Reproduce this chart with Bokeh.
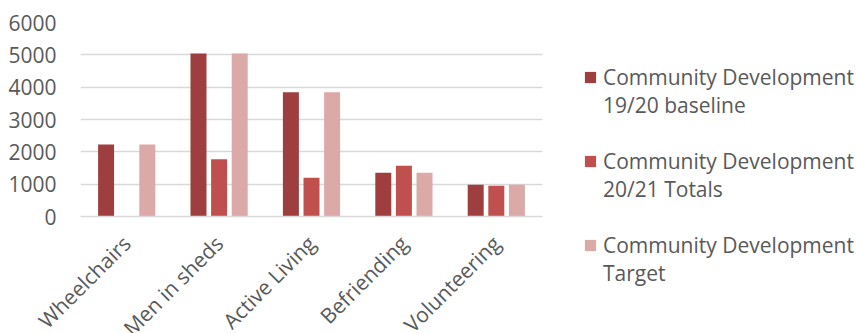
from bokeh.plotting import figure
from bokeh.models import ColumnDataSource, FactorRange, Legend, LegendItem, FixedTicker
from bokeh.transform import dodge
from bokeh.embed import file_html
from bokeh.resources import INLINE
from math import pi

categories = ["Wheelchairs", "Men in sheds", "Active Living", "Befriending", "Volunteering"]
baseline_1920 = [2230, 5040, 3840, 1350, 985]
totals_2021 = [0, 1770, 1200, 1570, 950]
target = [2230, 5040, 3840, 1350, 985]
series_labels = [
    "Community Development\n19/20 baseline",
    "Community Development\n20/21 Totals",
    "Community Development\nTarget",
]
y_ticks = [0, 1000, 2000, 3000, 4000, 5000, 6000]

colors = ["#9e3e3e", "#c0504d", "#dba9a8"]
FONT = "Open Sans"
TXT = "#595959"

src = ColumnDataSource(dict(cat=categories, baseline=baseline_1920, totals=totals_2021, target=target))

p = figure(x_range=FactorRange(*categories, range_padding=0), y_range=(0, 6000),
           frame_width=462, frame_height=194, output_backend="svg", toolbar_location=None,
           min_border_left=80, min_border_top=22, min_border_bottom=117, min_border_right=0)
p.outline_line_color = None
p.xgrid.grid_line_color = None
p.ygrid.grid_line_color = "#d9d9d9"
p.ygrid.grid_line_width = 1.5
p.yaxis.ticker = FixedTicker(ticks=y_ticks)
p.yaxis.axis_line_color = None
p.yaxis.major_tick_line_color = None
p.yaxis.minor_tick_line_color = None
p.yaxis.major_label_standoff = 18
p.xaxis.axis_line_color = "#d9d9d9"
p.xaxis.axis_line_width = 1.5
p.xaxis.major_tick_line_color = None
p.xaxis.major_label_orientation = pi / 4
p.xaxis.major_label_standoff = 17
for ax in (p.xaxis, p.yaxis):
    ax.major_label_text_font = FONT
    ax.major_label_text_font_size = "21px"
    ax.major_label_text_color = TXT

step = 0.223
bw = 0.173
renderers = []
for off, col, c in zip([-step, 0, step], ["baseline", "totals", "target"], colors):
    r = p.vbar(x=dodge("cat", off, range=p.x_range), top=col, width=bw, source=src,
               fill_color=c, line_color=None)
    renderers.append(r)

# a leading empty line centres the swatch on the first text line, as in the reference
legend = Legend(items=[LegendItem(label="\n" + l, renderers=[r]) for l, r in zip(series_labels, renderers)],
                location=(41, -71), orientation="vertical",
                label_text_font=FONT, label_text_font_size="21px", label_text_color=TXT,
                label_text_line_height=1.35,
                glyph_width=14, glyph_height=14, label_standoff=6, spacing=-24,
                padding=0, margin=0, border_line_color=None, background_fill_alpha=0)
p.add_layout(legend, "right")

open("out.html", "w").write(file_html(p, INLINE))
